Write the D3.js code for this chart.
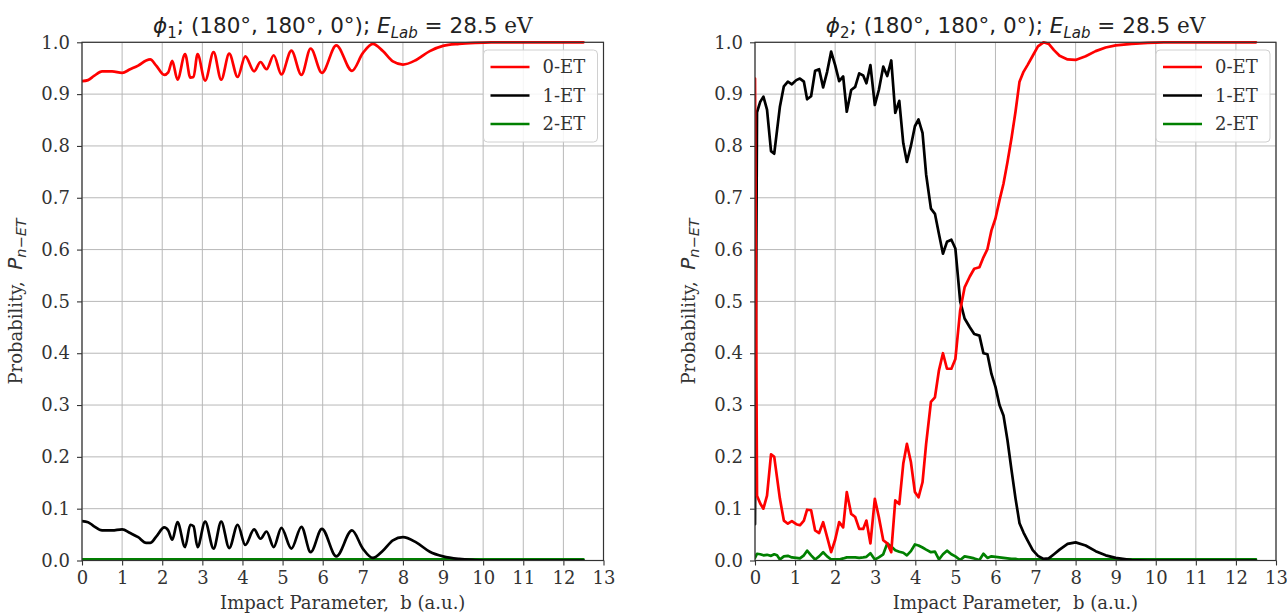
<!DOCTYPE html>
<html><head><meta charset="utf-8">
<script src="https://cdn.jsdelivr.net/npm/d3@7"></script>
<style>
body{margin:0;background:#fff}
text{white-space:pre}
</style>
</head><body>
<svg id="c" width="1287" height="616" xmlns="http://www.w3.org/2000/svg"></svg>
<script>
// ---------- data ----------
const xTicks = [0,1,2,3,4,5,6,7,8,9,10,11,12,13];
const yTicks = [0,0.1,0.2,0.3,0.4,0.5,0.6,0.7,0.8,0.9,1.0];
const seriesNames = ["0-ET","1-ET","2-ET"];
const seriesColors = ["#ff0000","#000000","#008000"];
const xLabel = "Impact Parameter,  b (a.u.)";

// left panel (phi_1)
const bLeft = [0,0.15,0.3,0.5,0.75,1.0,1.2,1.4,1.6,1.7,1.85,2.05,2.15,2.25,2.38,2.57,2.7,2.78,2.88,3.07,
  3.28,3.47,3.67,3.88,4.07,4.29,4.45,4.6,4.78,4.97,5.22,5.47,5.7,5.98,6.34,6.73,7.0,7.25,7.5,7.75,
  8.0,8.33,8.67,9.0,9.4,9.8,10.2,11,12,12.5];
const p0Left = [0.925,0.927,0.935,0.944,0.944,0.941,0.948,0.955,0.965,0.967,0.955,0.937,0.942,0.964,0.928,0.977,0.932,0.933,0.977,0.926,
  0.981,0.928,0.978,0.933,0.973,0.944,0.962,0.948,0.975,0.938,0.984,0.937,0.988,0.941,0.994,0.945,0.979,0.997,0.983,0.963,
  0.957,0.966,0.983,0.993,0.997,0.999,1.0,1.0,1.0,1.0];
const p1Left = [0.076,0.074,0.066,0.058,0.058,0.060,0.053,0.045,0.034,0.034,0.046,0.064,0.058,0.040,0.074,0.026,0.069,0.066,0.026,0.075,
  0.023,0.075,0.024,0.069,0.030,0.060,0.042,0.056,0.026,0.063,0.023,0.065,0.016,0.061,0.008,0.058,0.023,0.005,0.019,0.039,
  0.045,0.035,0.017,0.008,0.003,0.001,0.0,0.0,0.0,0.0];
const p2Left = [0.002,0.002,0.002,0.002,0.002,0.002,0.002,0.002,0.002,0.002,0.002,0.002,0.002,0.002,0.002,0.002,0.002,0.002,0.002,0.002,
  0.002,0.002,0.002,0.002,0.002,0.002,0.002,0.002,0.002,0.002,0.002,0.002,0.002,0.002,0.002,0.002,0.002,0.002,0.002,0.002,
  0.002,0.002,0.002,0.002,0.002,0.002,0.002,0.002,0.002,0.002];

// right panel (phi_2)
const bRight = [0,0.05,0.13,0.21,0.3,0.4,0.48,0.55,0.62,0.72,0.82,0.92,1.03,1.12,1.22,1.3,1.4,1.5,1.6,1.7,
  1.8,1.9,2.0,2.1,2.2,2.29,2.4,2.5,2.6,2.7,2.78,2.88,2.99,3.09,3.2,3.3,3.4,3.5,3.6,3.7,
  3.79,3.89,3.99,4.08,4.18,4.27,4.39,4.49,4.59,4.69,4.79,4.9,5.0,5.12,5.23,5.36,5.47,5.6,5.7,5.8,
  5.9,6.0,6.1,6.2,6.3,6.4,6.5,6.6,6.7,6.8,6.93,7.06,7.2,7.33,7.46,7.6,7.8,8.0,8.25,8.5,
  8.75,9.0,9.4,9.8,10.2,11,12,12.5];
const p0Right = [0.93,0.125,0.11,0.10,0.125,0.205,0.20,0.16,0.12,0.077,0.071,0.076,0.07,0.068,0.077,0.098,0.097,0.058,0.053,0.074,
  0.045,0.016,0.04,0.074,0.064,0.132,0.09,0.084,0.061,0.061,0.077,0.033,0.119,0.084,0.039,0.033,0.016,0.116,0.109,0.187,
  0.225,0.19,0.132,0.122,0.151,0.225,0.306,0.315,0.367,0.40,0.37,0.37,0.389,0.483,0.527,0.548,0.563,0.566,0.585,0.601,
  0.637,0.66,0.695,0.727,0.769,0.815,0.866,0.924,0.943,0.956,0.974,0.992,1.0,0.997,0.985,0.974,0.967,0.966,0.973,0.983,
  0.99,0.994,0.997,0.999,1.0,1.0,1.0,1.0];
const p1Right = [0.07,0.865,0.885,0.895,0.87,0.79,0.785,0.83,0.875,0.915,0.924,0.919,0.927,0.93,0.924,0.89,0.896,0.945,0.948,0.913,
  0.943,0.982,0.956,0.925,0.934,0.866,0.908,0.914,0.94,0.936,0.921,0.956,0.879,0.908,0.953,0.935,0.965,0.864,0.887,0.805,
  0.769,0.80,0.838,0.851,0.825,0.745,0.679,0.669,0.63,0.592,0.615,0.619,0.602,0.50,0.467,0.45,0.437,0.434,0.40,0.398,
  0.36,0.335,0.30,0.28,0.232,0.175,0.12,0.072,0.054,0.039,0.02,0.009,0.003,0.004,0.012,0.021,0.032,0.035,0.029,0.018,
  0.01,0.005,0.001,0.0,0.0,0.0,0.0,0.0];
const p2Right = [0.005,0.013,0.012,0.01,0.011,0.009,0.012,0.01,0.002,0.008,0.009,0.006,0.005,0.004,0.01,0.019,0.01,0.002,0.008,0.016,
  0.008,0.002,0.002,0.002,0.004,0.006,0.006,0.006,0.005,0.006,0.007,0.014,0.002,0.006,0.012,0.033,0.027,0.02,0.017,0.015,
  0.01,0.018,0.031,0.029,0.025,0.021,0.016,0.017,0.002,0.012,0.019,0.012,0.008,0.001,0.008,0.006,0.004,0.001,0.013,0.005,
  0.008,0.007,0.006,0.005,0.004,0.003,0.003,0.002,0.002,0.002,0.002,0.002,0.002,0.002,0.002,0.002,0.002,0.002,0.002,0.002,
  0.002,0.002,0.002,0.002,0.002,0.002,0.002,0.002];

const titleSub = ["1","2"];

// ---------- drawing ----------
const svg = d3.select("#c");
const TOP = 42.3, BOT = 560.5;
const SERIF = "'DejaVu Serif', serif";
const SANS = "'DejaVu Sans', sans-serif";

function panel(idx, left, right, b, series, curveType){
  const x = d3.scaleLinear().domain([0,13]).range([left,right]);
  const y = d3.scaleLinear().domain([0,1]).range([BOT,TOP]);
  const g = svg.append("g");
  const cid = "clip"+idx;
  svg.append("clipPath").attr("id",cid).append("rect")
    .attr("x",left).attr("y",TOP-2).attr("width",right-left).attr("height",BOT-TOP+2);

  // grid
  g.append("g").selectAll("line").data(xTicks).join("line")
    .attr("x1",d=>x(d)).attr("x2",d=>x(d)).attr("y1",TOP).attr("y2",BOT)
    .attr("stroke","#b8b8b8").attr("stroke-width",1);
  g.append("g").selectAll("line").data(yTicks).join("line")
    .attr("y1",d=>y(d)).attr("y2",d=>y(d)).attr("x1",left).attr("x2",right)
    .attr("stroke","#b8b8b8").attr("stroke-width",1);

  // axes
  const ax = g.append("g").attr("transform",`translate(0,${BOT})`)
    .call(d3.axisBottom(x).tickValues(xTicks).tickFormat(d3.format("d")).tickSize(5).tickPadding(6));
  const ay = g.append("g").attr("transform",`translate(${left},0)`)
    .call(d3.axisLeft(y).tickValues(yTicks).tickFormat(d3.format(".1f")).tickSize(5).tickPadding(7));
  [ax,ay].forEach(a=>{
    a.select(".domain").remove();
    a.selectAll(".tick line").attr("stroke","#333").attr("stroke-width",1.1);
    a.selectAll(".tick text").attr("font-family",SERIF).attr("font-size",18).attr("fill","#333");
  });

  // series
  const line = d3.line().curve(curveType).x((d,i)=>x(b[i])).y(d=>y(d));
  const lg = g.append("g").attr("clip-path",`url(#${cid})`);
  [2,1,0].forEach(k=>{
    lg.append("path").datum(series[k]).attr("d",line)
      .attr("fill","none").attr("stroke",seriesColors[k]).attr("stroke-width",2.7)
      .attr("stroke-linejoin","round").attr("stroke-linecap","round");
  });

  // spines
  g.append("rect").attr("x",left).attr("y",TOP).attr("width",right-left).attr("height",BOT-TOP)
    .attr("fill","none").attr("stroke","#333").attr("stroke-width",1.2);

  // legend
  const lx = right-120, ly = 50;
  const leg = g.append("g");
  leg.append("rect").attr("x",lx).attr("y",ly).attr("width",114).attr("height",92).attr("rx",4)
    .attr("fill","#fff").attr("fill-opacity",0.85).attr("stroke","#d0d0d0").attr("stroke-width",1);
  seriesNames.forEach((nm,k)=>{
    const yy = ly+17+k*28.5;
    leg.append("line").attr("x1",lx+7).attr("x2",lx+46).attr("y1",yy).attr("y2",yy)
      .attr("stroke",seriesColors[k]).attr("stroke-width",2.7);
    leg.append("text").attr("x",lx+59).attr("y",yy+6).text(nm)
      .attr("font-family",SERIF).attr("font-size",18).attr("fill","#333");
  });

  // title
  const cx = (left+right)/2;
  const t = svg.append("text").attr("x",cx).attr("y",33).attr("text-anchor","middle")
    .attr("font-family",SANS).attr("font-size",21.5).attr("fill","#222");
  t.append("tspan").attr("font-style","italic").text("ϕ");
  t.append("tspan").attr("font-size",15).attr("dy",4.5).text(titleSub[idx]);
  t.append("tspan").attr("dy",-4.5).text("; (180°, 180°, 0°); ");
  t.append("tspan").attr("font-style","italic").text("E");
  t.append("tspan").attr("font-style","italic").attr("font-size",15).attr("dy",4.5).text("Lab");
  t.append("tspan").attr("dy",-4.5).text(" = 28.5 ");
  t.append("tspan").attr("font-family",SERIF).text("eV");

  // x label
  svg.append("text").attr("x",cx).attr("y",609).attr("text-anchor","middle")
    .attr("font-family",SERIF).attr("font-size",18).attr("fill","#333").text(xLabel);

  // y label
  const yl = svg.append("text").attr("transform",`translate(${left-60},${(TOP+BOT)/2}) rotate(-90)`)
    .attr("text-anchor","middle").attr("font-family",SERIF).attr("font-size",18).attr("fill","#333");
  yl.append("tspan").text("Probability,  ");
  yl.append("tspan").attr("font-family",SANS).attr("font-style","italic").attr("font-size",20).text("P");
  yl.append("tspan").attr("font-family",SANS).attr("font-style","italic").attr("font-size",14.5).attr("dy",4).text("n−ET");
}

panel(0, 82, 603.5, bLeft, [p0Left,p1Left,p2Left], d3.curveMonotoneX);
panel(1, 755, 1276, bRight, [p0Right,p1Right,p2Right], d3.curveLinear);
</script>
</body></html>
